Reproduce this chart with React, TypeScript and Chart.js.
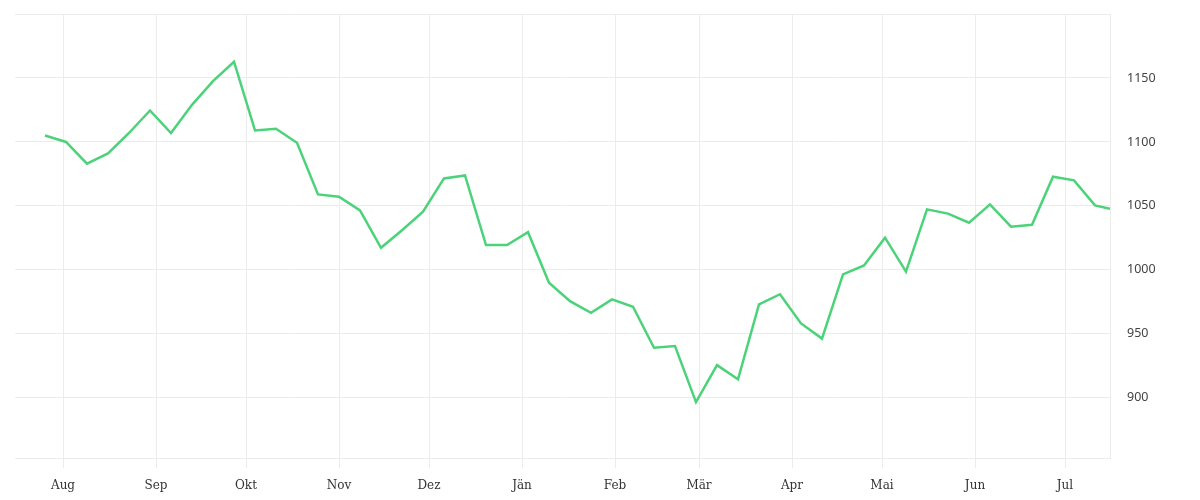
import React, { useEffect, useRef } from "react";
import { Chart, registerables } from "chart.js";

Chart.register(...registerables);

const RANGE_START = "2018-07-16";
const RANGE_END = "2019-07-16";

const dates = [
  "2018-07-26", "2018-08-02", "2018-08-09", "2018-08-16", "2018-08-23", "2018-08-30",
  "2018-09-06", "2018-09-13", "2018-09-20", "2018-09-27", "2018-10-04", "2018-10-11",
  "2018-10-18", "2018-10-25", "2018-11-01", "2018-11-08", "2018-11-15", "2018-11-22",
  "2018-11-29", "2018-12-06", "2018-12-13", "2018-12-20", "2018-12-27", "2019-01-03",
  "2019-01-10", "2019-01-17", "2019-01-24", "2019-01-31", "2019-02-07", "2019-02-14",
  "2019-02-21", "2019-02-28", "2019-03-07", "2019-03-14", "2019-03-21", "2019-03-28",
  "2019-04-04", "2019-04-11", "2019-04-18", "2019-04-25", "2019-05-02", "2019-05-09",
  "2019-05-16", "2019-05-23", "2019-05-30", "2019-06-06", "2019-06-13", "2019-06-20",
  "2019-06-27", "2019-07-04", "2019-07-11", "2019-07-16",
];

const prices = [
  1105, 1100, 1083, 1091, 1107, 1124.6, 1107, 1129, 1147.5, 1162.7, 1109, 1110.3, 1099.4,
  1059, 1057.2, 1046.5, 1017.3, 1031, 1045.5, 1071.5, 1073.8, 1019.4, 1019.4, 1029.5, 990, 975.6,
  966.5, 977, 971.2, 939.2, 940.5, 896.7, 925.6, 914.5, 973, 981, 958.2, 946.3, 996.5,
  1003.5, 1025.2, 998.6, 1047.3, 1044, 1036.9, 1051.2, 1033.8, 1035.3, 1072.8, 1070, 1050.4, 1047.8,
];

const monthTickDates = [
  "2018-08-01", "2018-09-01", "2018-10-01", "2018-11-01", "2018-12-01", "2019-01-01",
  "2019-02-01", "2019-03-01", "2019-04-01", "2019-05-01", "2019-06-01", "2019-07-01",
];
const monthLabels = ["Aug", "Sep", "Okt", "Nov", "Dez", "Jän", "Feb", "Mär", "Apr", "Mai", "Jun", "Jul"];

const yTickValues = [900, 950, 1000, 1050, 1100, 1150];
const Y_MIN = 853;
const Y_MAX = 1200;

const dayOf = (s: string) => (Date.parse(s) - Date.parse(RANGE_START)) / 86400000;

const GRID = "#ececec";

export default function App() {
  const ref = useRef<HTMLCanvasElement | null>(null);

  useEffect(() => {
    if (!ref.current) return;
    const monthDays = monthTickDates.map(dayOf);
    const chart = new Chart(ref.current, {
      type: "line",
      data: {
        datasets: [
          {
            data: dates.map((d, i) => ({ x: dayOf(d), y: prices[i] })),
            borderColor: "#4cd37a",
            borderWidth: 2.5,
            pointRadius: 0,
            pointHoverRadius: 0,
            tension: 0,
            fill: false,
          },
        ],
      },
      options: {
        animation: false,
        responsive: true,
        maintainAspectRatio: false,
        layout: { padding: { left: 15, top: 14, right: 0, bottom: 0 } },
        plugins: { legend: { display: false }, tooltip: { enabled: false } },
        scales: {
          x: {
            type: "linear",
            min: 0,
            max: dayOf(RANGE_END),
            afterBuildTicks: (scale: any) => {
              scale.ticks = monthDays.map((v) => ({ value: v }));
            },
            afterFit: (scale: any) => {
              scale.height = 42;
              scale.paddingLeft = 0;
              scale.paddingRight = 0;
            },
            grid: { color: GRID, tickLength: 10, drawTicks: true },
            border: { display: true, color: GRID },
            ticks: {
              autoSkip: false,
              maxRotation: 0,
              padding: 11,
              color: "#333",
              font: { family: "'DejaVu Serif', serif", size: 12 },
              callback: (value: any) => {
                const idx = monthDays.indexOf(Number(value));
                return idx >= 0 ? monthLabels[idx] : "";
              },
            },
          },
          y: {
            type: "linear",
            position: "right",
            min: Y_MIN,
            max: Y_MAX,
            afterBuildTicks: (scale: any) => {
              scale.ticks = [Y_MIN, ...yTickValues, Y_MAX].map((v) => ({ value: v }));
            },
            afterFit: (scale: any) => {
              scale.width = 90;
              scale.paddingTop = 0;
              scale.paddingBottom = 0;
            },
            grid: { color: GRID, drawTicks: false },
            border: { display: true, color: GRID },
            ticks: {
              padding: 17,
              color: "#444",
              font: { family: "'Noto Sans', sans-serif", size: 12.5 },
              callback: (value: any) => (yTickValues.includes(Number(value)) ? String(value) : ""),
            },
          },
        },
      },
    });
    return () => chart.destroy();
  }, []);

  return (
    <div style={{ position: "absolute", left: 0, top: 0, width: 1200, height: 500, background: "#fff" }}>
      <canvas ref={ref} />
    </div>
  );
}
